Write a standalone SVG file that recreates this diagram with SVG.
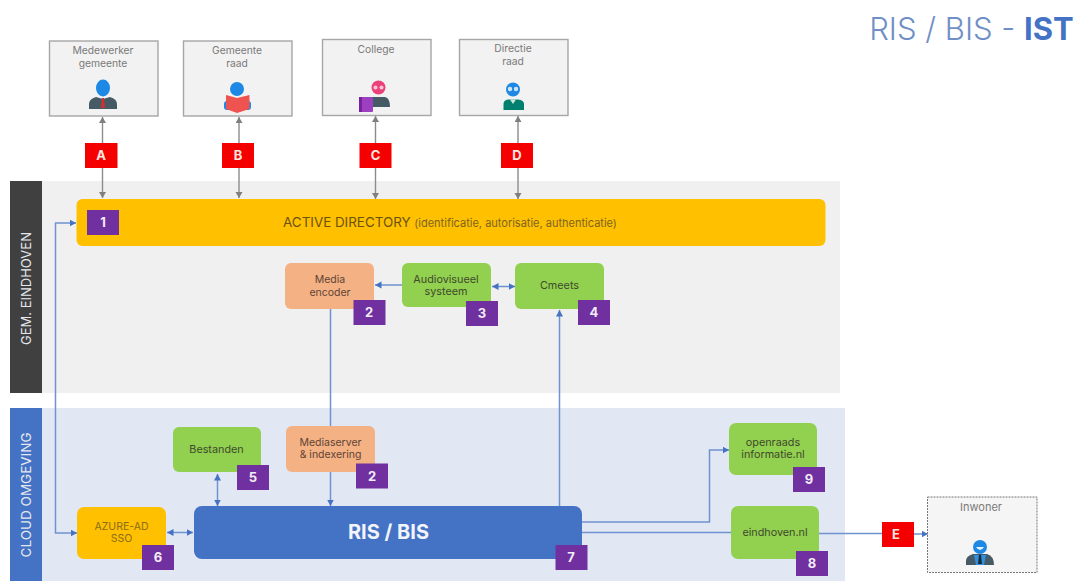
<svg xmlns="http://www.w3.org/2000/svg" width="1078" height="581" viewBox="0 0 1078 581">
<style>
text{font-family:Inter,"Noto Sans","Liberation Sans",sans-serif;text-anchor:middle}
.box{fill:#f2f2f2;stroke:#a6a6a6;stroke-width:1.4}
.lbl{font-size:10.300px;fill:#7a7a7a}
.dark{font-size:10.800px;fill:#3f4a2c}
.org{font-size:10.500px;fill:#5e4436}
.badge{fill:#7030a0}
.bt{font-size:13px;font-weight:700;fill:#f2ecf6}
.rb{fill:#f50000}
.rt{font-size:13px;font-weight:700;fill:#fbe6e0}
.g{fill:#92d050}
.o{fill:#f4b183}
.y{fill:#ffc000}
.gl{stroke:#8c8c8c;stroke-width:1.4;fill:none}
.bl{stroke:#6f93cf;stroke-width:1.5;fill:none}
.side{fill:#e4e8ee}
</style>
<defs>
<marker id="ga" markerWidth="8" markerHeight="8" refX="6" refY="3.5" orient="auto-start-reverse" markerUnits="userSpaceOnUse"><path d="M0,0L6,3.5L0,7Z" fill="#7f7f7f"/></marker>
<marker id="ba" markerWidth="8" markerHeight="8" refX="6.5" refY="3.5" orient="auto-start-reverse" markerUnits="userSpaceOnUse"><path d="M0,0L6.5,3.5L0,7Z" fill="#4472c4"/></marker>
</defs>
<rect width="1078" height="581" fill="#fff"/>
<g id="panels">
<rect x="42" y="181" width="798" height="212" fill="#f0f0f0"/>
<rect x="10" y="181" width="32" height="212" fill="#404040"/>
<text class="side" style="font-size:13px" transform="translate(31,288.500) rotate(-90)">GEM. EINDHOVEN</text>
<rect x="42" y="408" width="803" height="173" fill="#e1e8f4"/>
<rect x="10" y="408" width="32" height="173" fill="#4472c4"/>
<text class="side" style="font-size:13.500px" transform="translate(31,495) rotate(-90)">CLOUD OMGEVING</text>
</g>
<g id="connectors">
<path class="gl" marker-start="url(#ga)" d="M102.500,117V143"/><path class="gl" marker-end="url(#ga)" d="M102.500,168V198"/>
<path class="gl" marker-start="url(#ga)" d="M239,117V143"/><path class="gl" marker-end="url(#ga)" d="M239,168V198"/>
<path class="gl" marker-start="url(#ga)" d="M375.500,116V143"/><path class="gl" marker-end="url(#ga)" d="M375.500,168V199"/>
<path class="gl" marker-start="url(#ga)" d="M518,116V143"/><path class="gl" marker-end="url(#ga)" d="M518,168V199"/>
<path class="bl" marker-start="url(#ba)" marker-end="url(#ba)" d="M76,223H55.500V533H77"/>
<path class="bl" marker-end="url(#ba)" d="M402,285H375"/>
<path class="bl" marker-start="url(#ba)" marker-end="url(#ba)" d="M492,286.500H515"/>
<path class="bl" d="M330.500,309V426"/>
<path class="bl" marker-end="url(#ba)" d="M330.500,472V506"/>
<path class="bl" marker-end="url(#ba)" d="M559.500,506V310"/>
<path class="bl" marker-start="url(#ba)" marker-end="url(#ba)" d="M217.500,474V506"/>
<path class="bl" marker-start="url(#ba)" marker-end="url(#ba)" d="M167,532.500H193"/>
<path class="bl" marker-end="url(#ba)" d="M582,522H709.500V450H729"/>
<path class="bl" d="M582,532.500H731"/>
<path class="bl" d="M819,533.500H882"/>
<path class="bl" marker-end="url(#ba)" d="M914,534H928"/>
</g>
<g id="n-medewerker">
<rect class="box" x="49.500" y="41" width="108.500" height="75"/>
<text class="lbl" x="103" y="54">Medewerker</text><text class="lbl" x="103" y="67">gemeente</text>
<ellipse cx="103" cy="88" rx="7" ry="8.500" fill="#1e88e5"/>
<path d="M89,109V104Q89,99 96,97L103,99L110,97Q117,99 117,104V109Z" fill="#455a64"/>
<path d="M102,98H104L105,108H101Z" fill="#d32f2f"/>
</g>
<g id="n-raad">
<rect class="box" x="183.500" y="41" width="108.500" height="75"/>
<text class="lbl" x="237" y="54">Gemeente</text><text class="lbl" x="237" y="67">raad</text>
<circle cx="237" cy="89" r="7" fill="#1e88e5"/>
<rect x="224" y="101" width="27" height="9" rx="3" fill="#1e88e5"/>
<path d="M226,95L237,98L249.500,95V109L237,113L226,109Z" fill="#ef5350"/>
</g>
<g id="n-college">
<rect class="box" x="322.500" y="39.500" width="108.500" height="76"/>
<text class="lbl" x="376" y="53">College</text>
<circle cx="378.500" cy="87.500" r="7" fill="#ec407a"/>
<circle cx="375.500" cy="87.500" r="2" fill="#f4c6d6"/><circle cx="381.500" cy="87.500" r="2" fill="#f4c6d6"/>
<path d="M367,107V103Q367,98 372,97H385Q390,98 390,107Z" fill="#455a64"/>
<rect x="359" y="97" width="14" height="15" rx="1" fill="#9c3fc0"/><rect x="359" y="97" width="3" height="15" fill="#7b1fa2"/>
</g>
<g id="n-directie">
<rect class="box" x="459.500" y="39.500" width="108.500" height="76"/>
<text class="lbl" x="513" y="52">Directie</text><text class="lbl" x="513" y="65">raad</text>
<circle cx="513" cy="89.500" r="7" fill="#1e88e5"/>
<circle cx="510" cy="89" r="2.200" fill="#cfe5f7"/><circle cx="516" cy="89" r="2.200" fill="#cfe5f7"/>
<path d="M503.500,110V104Q503.500,100 508,99.500H518Q524,100 524,104V110Z" fill="#00806e"/>
<path d="M510,99.500H516L513,104Z" fill="#cfe8df"/>
</g>
<g id="b-a"><rect class="rb" x="85" y="143" width="32.500" height="25"/><text class="rt" x="101" y="160">A</text></g>
<g id="b-b"><rect class="rb" x="222" y="143" width="32" height="25"/><text class="rt" x="238" y="160">B</text></g>
<g id="b-c"><rect class="rb" x="359.500" y="143" width="32" height="25"/><text class="rt" x="375.500" y="160">C</text></g>
<g id="b-d"><rect class="rb" x="501" y="143" width="32" height="25"/><text class="rt" x="517" y="160">D</text></g>
<g id="n-ad">
<rect class="y" x="76.500" y="199" width="749" height="47" rx="6"/>
<text x="450" y="227" style="font-size:13.400px;fill:#6b5210">ACTIVE DIRECTORY <tspan style="font-size:11px;fill:#7d6420">(identificatie, autorisatie, authenticatie)</tspan></text>
<rect class="badge" x="87" y="210" width="32" height="25"/><text class="bt" x="103" y="227">1</text>
</g>
<g id="n-encoder">
<rect class="o" x="285" y="263" width="89" height="46" rx="6"/>
<text class="org" x="330" y="283">Media</text><text class="org" x="330" y="296">encoder</text>
<rect class="badge" x="353.500" y="300" width="32" height="25"/><text class="bt" x="369" y="317">2</text>
</g>
<g id="n-av">
<rect class="g" x="402" y="263" width="89" height="44" rx="6"/>
<text class="dark" x="446" y="283">Audiovisueel</text><text class="dark" x="446" y="295">systeem</text>
<rect class="badge" x="466" y="301" width="32" height="25"/><text class="bt" x="482" y="318">3</text>
</g>
<g id="n-cmeets">
<rect class="g" x="515" y="263" width="89" height="46" rx="6"/>
<text class="dark" x="559.500" y="289">Cmeets</text>
<rect class="badge" x="578" y="300" width="32" height="25"/><text class="bt" x="594" y="317">4</text>
</g>
<g id="n-bestanden">
<rect class="g" x="173" y="427" width="88" height="45" rx="6"/>
<text class="dark" x="216.500" y="453">Bestanden</text>
<rect class="badge" x="237" y="465" width="32" height="25"/><text class="bt" x="253" y="482">5</text>
</g>
<g id="n-mediaserver">
<rect class="o" x="286" y="426" width="89" height="46" rx="6"/>
<text class="org" x="330.500" y="446">Mediaserver</text><text class="org" x="330.500" y="458">&amp; indexering</text>
<rect class="badge" x="356" y="463.500" width="32" height="25"/><text class="bt" x="372" y="481">2</text>
</g>
<g id="n-azure">
<rect class="y" x="77" y="507" width="89" height="52" rx="7"/>
<text x="121.500" y="530" style="font-size:10.500px;fill:#8a6d1a">AZURE-AD</text><text x="121.500" y="542" style="font-size:10.500px;fill:#8a6d1a">SSO</text>
<rect class="badge" x="142" y="545" width="32" height="25"/><text class="bt" x="158" y="562">6</text>
</g>
<g id="n-ris">
<rect x="194" y="506" width="388" height="53" rx="8" fill="#4472c4"/>
<text x="388.500" y="539" style="font-size:20px;font-weight:700;fill:#f2f5fb">RIS / BIS</text>
<rect class="badge" x="555.500" y="545" width="32" height="25"/><text class="bt" x="571" y="562">7</text>
</g>
<g id="n-open">
<rect class="g" x="729" y="423" width="88" height="52" rx="7"/>
<text class="dark" x="773" y="446">openraads</text><text class="dark" x="773" y="458">informatie.nl</text>
<rect class="badge" x="793" y="467" width="32" height="25"/><text class="bt" x="809" y="484">9</text>
</g>
<g id="n-eindhoven">
<rect class="g" x="731" y="506" width="88" height="53" rx="7"/>
<text class="dark" x="775" y="536">eindhoven.nl</text>
<rect class="badge" x="796" y="551" width="32" height="25"/><text class="bt" x="812" y="568">8</text>
</g>
<g id="b-e"><rect class="rb" x="882" y="522" width="32" height="25"/><text class="rt" x="896" y="539">E</text></g>
<g id="n-inwoner">
<rect x="927.500" y="497" width="109.500" height="75.500" fill="#f5f5f5" stroke="#777" stroke-width="1" stroke-dasharray="2 1"/>
<text x="981" y="511" style="font-size:11px;fill:#7a7a7a">Inwoner</text>
<circle cx="980" cy="547" r="7" fill="#1e88e5"/>
<path d="M976,547Q980,553 984,547Z" fill="#e3f2fd"/>
<path d="M966,565V561Q966,556 973,554H987Q994,556 994,565Z" fill="#455a64"/>
<path d="M974,555H986L984,565H976Z" fill="#2f8fe0"/>
<path d="M979,555H981L982,564H978Z" fill="#1c2b33"/>
</g>
<g id="title">
<text x="971.500" y="40" style="font-size:31px;font-weight:300;fill:#6f8fc6">RIS / BIS - <tspan style="font-weight:700;fill:#4472c4">IST</tspan></text>
</g>
</svg>
